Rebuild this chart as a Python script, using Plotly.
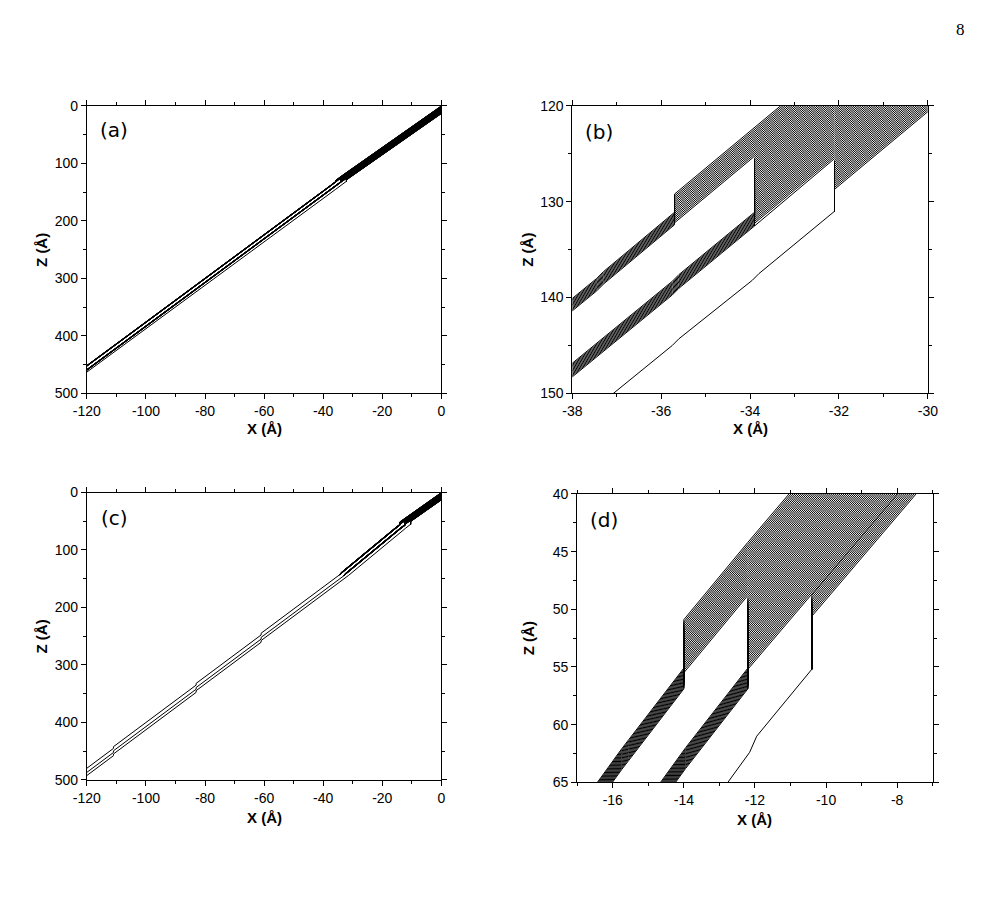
import plotly.graph_objects as go

W, H = 983, 902

# ---------------- Panels (a)/(b): first configuration ----------------
# top line of the incoming bundle (before any step)
ab_base_x = [0.0, -30.0, -32.1, -33.9, -35.7]
ab_base_z = [0.0, 107.2, 115.3, 122.25, 129.2]
# x position of the step each group drops at
ab_jump_x = [-35.7, -33.9, -32.1]
# offsets (Å, along Z) of the trajectories inside each group before the step
ab_pre_off = [
    [0.0, 0.2, 0.4, 0.6, 0.8, 1.0, 1.2, 1.4, 1.6, 1.8, 2.0, 2.2, 2.4, 2.6, 2.8, 3.0],
    [3.2, 3.4, 3.6, 3.8, 4.0, 4.2, 4.4, 4.6, 4.8, 5.0, 5.2, 5.4, 5.6, 5.8, 6.0, 6.2, 6.4, 6.6,
     6.8, 7.0, 7.2, 7.4, 7.6, 7.8, 8.0, 8.2, 8.4, 8.6, 8.8, 9.0, 9.2, 9.4, 9.6, 9.8, 10.0, 10.2],
    [10.4, 10.6, 10.8, 11.0, 11.2, 11.4, 11.6, 11.8, 12.0, 12.2, 12.4, 12.6, 12.8, 13.0, 13.2, 13.4],
]
# landing offsets after the step (one per trajectory; equal values overlap)
ab_land_off = [
    [0.0, 0.0, 0.13, 0.26, 0.26, 0.39, 0.52, 0.52, 0.65, 0.78, 0.78, 0.91, 1.04, 1.04, 1.17, 1.3],
    [0.0, 0.0, 0.0, 0.13, 0.13, 0.13, 0.26, 0.26, 0.26, 0.39, 0.39, 0.39, 0.52, 0.52, 0.52, 0.65,
     0.65, 0.65, 0.78, 0.78, 0.78, 0.91, 0.91, 0.91, 1.04, 1.04, 1.04, 1.17, 1.17, 1.17, 1.3, 1.3,
     1.3, 1.43, 1.43, 1.43],
    [0.0] * 16,
]
# path of each group's top line after the step
ab_band_x = [[-35.7, -37.3, -37.45, -120.0],
             [-33.9, -35.6, -35.75, -120.0],
             [-32.1, -33.8, -33.95, -35.6, -35.75, -120.0]]
ab_band_z = [[131.1, 137.3, 138.0, 451.5],
             [131.1, 137.6, 138.3, 458.5],
             [131.0, 137.5, 138.2, 144.3, 145.0, 463.0]]
ab_tail_x = [[], [], []]
ab_tail_z = [[], [], []]

# ---------------- Panels (c)/(d): second configuration ----------------
cd_base_x = [0.0, -10.4, -12.2, -14.0]
cd_base_z = [0.0, 37.6, 44.2, 50.9]
cd_jump_x = [-14.0, -12.2, -10.4]
cd_pre_off = [
    [0.0, 0.2, 0.4, 0.6, 0.8, 1.0, 1.2, 1.4, 1.6, 1.8, 2.0, 2.2, 2.4, 2.6, 2.8, 3.0, 3.2, 3.4,
     3.6, 3.8, 4.0, 4.2, 4.4, 4.6],
    [4.8, 5.0, 5.2, 5.4, 5.6, 5.8, 6.0, 6.2, 6.4, 6.6, 6.8, 7.0, 7.2, 7.4, 7.6, 7.8, 8.0, 8.2,
     8.4, 8.6, 8.8, 9.0, 9.2, 9.4, 9.6, 9.8, 10.0, 10.2, 10.4, 10.6, 10.8, 11.0],
    [11.2, 11.4, 11.6, 11.8, 12.0, 12.2, 12.4, 12.6, 12.8, 13.0],
]
cd_land_off = [
    [0.0, 0.0, 0.12, 0.24, 0.24, 0.36, 0.48, 0.48, 0.6, 0.72, 0.72, 0.84, 0.96, 0.96, 1.08, 1.2,
     1.2, 1.32, 1.44, 1.44, 1.56, 1.68, 1.68, 1.8],
    [0.0, 0.0, 0.12, 0.12, 0.24, 0.24, 0.36, 0.36, 0.48, 0.48, 0.6, 0.6, 0.72, 0.72, 0.84, 0.84,
     0.96, 0.96, 1.08, 1.08, 1.2, 1.2, 1.32, 1.32, 1.44, 1.44, 1.56, 1.56, 1.68, 1.68, 1.8, 1.8],
    [0.0] * 10,
]
cd_band_x = [[-14.0, -15.55, -15.75, -34.0],
             [-12.2, -13.75, -13.95, -32.6],
             [-10.4, -11.95, -12.15, -31.5]]
cd_band_z = [[55.1, 61.3, 62.1, 139.7],
             [55.1, 61.2, 62.0, 141.3],
             [55.2, 61.0, 62.4, 144.6]]
cd_tail_x = [[-34.4, -61.0, -61.0, -83.0, -83.0, -111.0, -111.0, -120.0],
             [-32.9, -61.0, -61.0, -83.0, -83.0, -111.0, -111.0, -120.0],
             [-61.0, -61.0, -83.0, -83.0, -111.0, -111.0, -120.0]]
cd_tail_z = [[143.0, 244.9, 247.9, 332.2, 335.2, 442.4, 445.4, 479.9],
             [144.5, 252.1, 255.1, 339.4, 342.4, 449.6, 452.6, 487.1],
             [257.6, 260.6, 344.9, 347.9, 455.1, 458.1, 492.6]]

# tick labels
ab_x_ticks = [-120, -100, -80, -60, -40, -20, 0]
ab_y_ticks = [0, 100, 200, 300, 400, 500]
b_x_ticks = [-38, -36, -34, -32, -30]
b_y_ticks = [120, 130, 140, 150]
d_x_ticks = [-16, -14, -12, -10, -8]
d_y_ticks = [40, 45, 50, 55, 60, 65]


def build(base_x, base_z, jump_x, pre_off, land_off, band_x, band_z, tail_x, tail_z):
    xs, zs = [], []
    for g in range(len(jump_x)):
        pre_x = [bx for bx in base_x if bx >= jump_x[g]]
        pre_z = base_z[:len(pre_x)]
        seen = set()
        for o, lo in zip(pre_off[g], land_off[g]):
            lx = list(pre_x)
            lz = [z + o for z in pre_z]
            if lo not in seen:
                seen.add(lo)
                lx += band_x[g]
                lz += [z + lo for z in band_z[g]]
                if tail_x[g]:
                    lx.append(tail_x[g][0])
                    lz.append(tail_z[g][0])
            else:
                lx.append(band_x[g][0])
                lz.append(band_z[g][0] + lo)
            xs += lx + [None]
            zs += lz + [None]
        if tail_x[g]:
            xs += tail_x[g] + [None]
            zs += tail_z[g] + [None]
    return xs, zs


ab_x, ab_z = build(ab_base_x, ab_base_z, ab_jump_x, ab_pre_off, ab_land_off,
                   ab_band_x, ab_band_z, ab_tail_x, ab_tail_z)
cd_x, cd_z = build(cd_base_x, cd_base_z, cd_jump_x, cd_pre_off, cd_land_off,
                   cd_band_x, cd_band_z, cd_tail_x, cd_tail_z)

fig = go.Figure()
line_style = dict(color="black", width=1)
for xs, zs, xa, ya in [(ab_x, ab_z, "x", "y"), (ab_x, ab_z, "x2", "y2"),
                       (cd_x, cd_z, "x3", "y3"), (cd_x, cd_z, "x4", "y4")]:
    fig.add_trace(go.Scatter(x=xs, y=zs, mode="lines", line=line_style,
                             xaxis=xa, yaxis=ya, hoverinfo="skip",
                             showlegend=False, connectgaps=False))

FONT = "Liberation Sans, Arial, sans-serif"


def px_x(p):
    return p / W


def px_y(p):
    return 1 - p / H


def axis(dom, rng, ticks, minor_dtick, minor_tick0, anchor):
    return dict(
        domain=dom, range=rng, autorange=False, anchor=anchor,
        tickmode="array", tickvals=ticks, ticktext=[str(t) for t in ticks],
        showline=True, linecolor="black", linewidth=1, mirror="allticks",
        ticks="outside", ticklen=5, tickwidth=1, tickcolor="black",
        showgrid=False, zeroline=False,
        tickfont=dict(family=FONT, size=14, color="black"),
        minor=dict(tickmode="linear", tick0=minor_tick0, dtick=minor_dtick,
                   ticks="outside", ticklen=3, tickwidth=1, tickcolor="black",
                   showgrid=False),
    )


dom_a_x = [px_x(74.7), px_x(438.0)]
dom_b_x = [px_x(572.3), px_x(936.7)]
dom_d_x = [px_x(577.3), px_x(941.7)]
dom_top_y = [px_y(392.3), px_y(99.7)]
dom_c_y = [px_y(785.7), px_y(493.3)]
dom_d_y = [px_y(788.3), px_y(494.7)]

fig.update_layout(
    width=W, height=H,
    margin=dict(l=0, r=0, t=0, b=0),
    paper_bgcolor="white", plot_bgcolor="white",
    xaxis=axis(dom_a_x, [-120, 0], ab_x_ticks, 10, 0, "y"),
    yaxis=axis(dom_top_y, [500, 0], ab_y_ticks, 50, 0, "x"),
    xaxis2=axis(dom_b_x, [-38, -30], b_x_ticks, 1, 0, "y2"),
    yaxis2=axis(dom_top_y, [150, 120], b_y_ticks, 5, 0, "x2"),
    xaxis3=axis(dom_a_x, [-120, 0], ab_x_ticks, 10, 0, "y3"),
    yaxis3=axis(dom_c_y, [500, 0], ab_y_ticks, 50, 0, "x3"),
    xaxis4=axis(dom_d_x, [-17, -7], d_x_ticks, 1, 0, "y4"),
    yaxis4=axis(dom_d_y, [65, 40], d_y_ticks, 2.5, 0, "x4"),
)

annots = []
title_font = dict(family=FONT, size=15, color="black")
# X axis titles
for cx, cy in [((74.7 + 438.0) / 2, 428), ((572.3 + 936.7) / 2, 428),
               ((74.7 + 438.0) / 2, 824), ((577.3 + 941.7) / 2, 826)]:
    annots.append(dict(text="<b>X (Å)</b>", x=px_x(cx), y=px_y(cy), xref="paper", yref="paper",
                       showarrow=False, xanchor="center", yanchor="middle", font=title_font))
# Z axis titles
for cx, cy in [(28, 246), (527, 246), (28, 639.5), (527, 641.5)]:
    annots.append(dict(text="<b>Z (Å)</b>", x=px_x(cx), y=px_y(cy), xref="paper", yref="paper",
                       showarrow=False, xanchor="center", yanchor="middle", textangle=-90,
                       font=title_font))
# panel labels
for lab, lx, ly in [("(a)", 86, 124), ("(b)", 583, 126.7), ("(c)", 86.7, 519), ("(d)", 588, 521.7)]:
    annots.append(dict(text=lab, x=px_x(lx), y=px_y(ly), xref="paper", yref="paper",
                       showarrow=False, xanchor="left", yanchor="middle",
                       font=dict(family="DejaVu Sans, Verdana, sans-serif", size=20, color="black")))
# page number
annots.append(dict(text="8", x=px_x(970), y=px_y(22), xref="paper", yref="paper",
                   showarrow=False, xanchor="center", yanchor="middle",
                   font=dict(family="Liberation Serif, Times New Roman, serif", size=17, color="black")))
fig.update_layout(annotations=annots)

fig.write_html("out.html")
